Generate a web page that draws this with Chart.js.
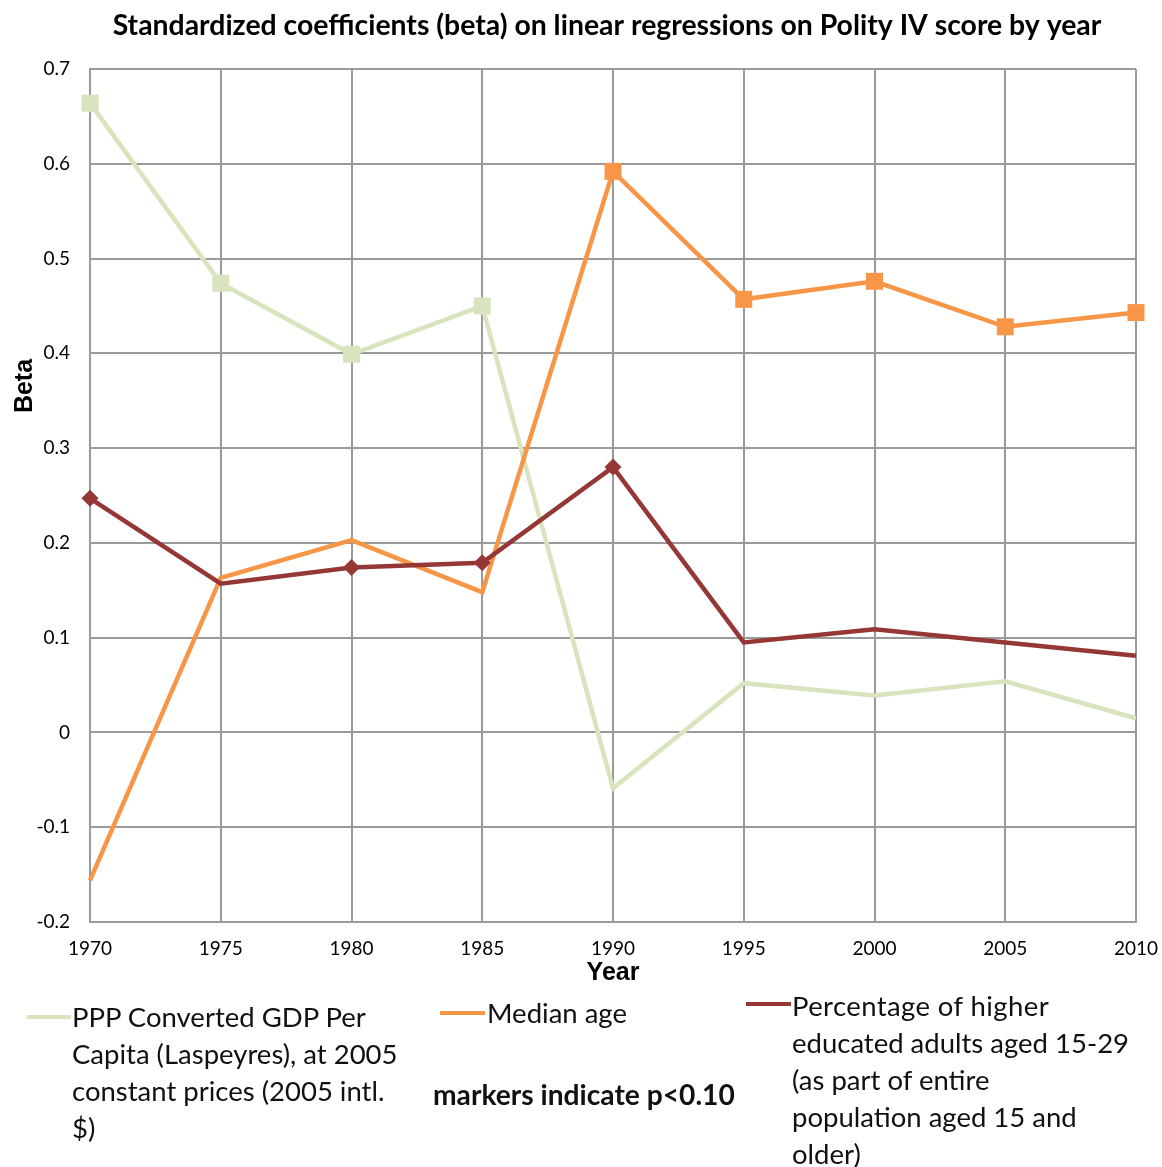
<!DOCTYPE html>
<html>
<head>
<meta charset="utf-8">
<script src="https://cdn.jsdelivr.net/npm/chart.js@4.4.1/dist/chart.umd.min.js"></script>
<style>
  html, body { margin: 0; padding: 0; background: #fff; }
  #wrap { position: relative; width: 1162px; height: 1167px; }
  canvas { position: absolute; left: 0; top: 0; }
  .leg { position: absolute; font-family: Lato, "Open Sans", sans-serif; font-size: 27.5px; color: #111; line-height: 37px; white-space: nowrap; }
  .sw { position: absolute; height: 4px; }
</style>
</head>
<body>
<div id="wrap">
  <canvas id="c" width="1162" height="1167"></canvas>
  <div class="sw" style="left:27px; top:1015px; width:44px; background:#d7e4bd"></div>
  <div class="leg" style="left:72px; top:998px">PPP Converted GDP Per<br>Capita (Laspeyres), at 2005<br>constant prices (2005 intl.<br>$)</div>
  <div class="sw" style="left:440px; top:1011px; width:45px; background:#f79646"></div>
  <div class="leg" style="left:487px; top:994px">Median age</div>
  <div class="leg" style="left:433px; top:1076px; font-weight:bold; font-size:28.2px">markers indicate p&lt;0.10</div>
  <div class="sw" style="left:746px; top:1002px; width:45px; background:#953735"></div>
  <div class="leg" style="left:792px; top:987px"><span style="letter-spacing:0.4px">Percentage of higher</span><br>educated adults aged 15-29<br>(as part of entire<br>population aged 15 and<br>older)</div>
</div>
<script>
// Survey years
const years = ['1970', '1975', '1980', '1985', '1990', '1995', '2000', '2005', '2010'];

// Standardized coefficients (beta) per predictor
const gdpBeta    = [0.664, 0.474, 0.399, 0.450, -0.059, 0.052, 0.039, 0.054, 0.015];
const medianAge  = [-0.156, 0.163, 0.203, 0.148, 0.592, 0.457, 0.476, 0.428, 0.443];
const higherEdu  = [0.247, 0.157, 0.174, 0.179, 0.280, 0.095, 0.109, 0.095, 0.081];

// Significant at p<0.10 (marker shown)
const gdpSig = [true, true, true, true, false, false, false, false, false];
const ageSig = [false, false, false, false, true, true, true, true, true];
const eduSig = [true, false, true, true, true, false, false, false, false];

// Value axis ticks
const yTicks = [-0.2, -0.1, 0, 0.1, 0.2, 0.3, 0.4, 0.5, 0.6, 0.7];

const TITLE = 'Standardized coefficients (beta) on linear regressions on Polity IV score by year';
const FONT = 'Lato, "Open Sans", sans-serif';
const AXFONT = '"Liberation Sans", Arial, sans-serif';
const GRID = '#9a9a9a';

// Chart title and axis titles, placed as in the original layout
const titles = {
  id: 'titles',
  afterDraw(chart) {
    const ctx = chart.ctx;
    const area = chart.chartArea;
    ctx.save();
    ctx.fillStyle = '#000';
    ctx.textAlign = 'center';
    ctx.textBaseline = 'middle';

    ctx.font = 'bold 28.4px ' + FONT;
    ctx.fillText(TITLE, 607, 26);

    ctx.font = 'bold 25px ' + AXFONT;
    ctx.fillText('Year', (area.left + area.right) / 2, area.bottom + 51);

    ctx.translate(25, 386);
    ctx.rotate(-Math.PI / 2);
    ctx.fillText('Beta', 0, 0);
    ctx.restore();
  }
};

new Chart(document.getElementById('c'), {
  type: 'line',
  data: {
    labels: years,
    datasets: [
      {
        label: 'PPP Converted GDP Per Capita (Laspeyres), at 2005 constant prices (2005 intl. $)',
        data: gdpBeta,
        borderColor: '#d7e4bd',
        backgroundColor: '#d7e4bd',
        borderWidth: 4.5,
        pointStyle: 'rect',
        pointRadius: gdpSig.map(s => s ? 12 : 0),
        pointBorderWidth: 0,
        order: 3
      },
      {
        label: 'Median age',
        data: medianAge,
        borderColor: '#f79646',
        backgroundColor: '#f79646',
        borderWidth: 4.5,
        pointStyle: 'rect',
        pointRadius: ageSig.map(s => s ? 12 : 0),
        pointBorderWidth: 0,
        order: 2
      },
      {
        label: 'Percentage of higher educated adults aged 15-29 (as part of entire population aged 15 and older)',
        data: higherEdu,
        borderColor: '#953735',
        backgroundColor: '#953735',
        borderWidth: 4.5,
        pointStyle: 'rectRot',
        pointRadius: eduSig.map(s => s ? 8.5 : 0),
        pointBorderWidth: 0,
        order: 1
      }
    ]
  },
  options: {
    responsive: false,
    animation: false,
    events: [],
    layout: { padding: { left: 0, right: 0, top: 69, bottom: 191 } },
    plugins: {
      legend: { display: false },
      tooltip: { enabled: false },
      title: { display: false }
    },
    scales: {
      x: {
        type: 'category',
        offset: false,
        afterFit(scale) { scale.paddingRight = 26; },
        grid: { color: GRID, lineWidth: 2, drawTicks: false },
        border: { color: GRID, width: 2 },
        ticks: { color: '#000', font: { family: FONT, size: 19, lineHeight: 1 }, padding: 17.5, maxRotation: 0, autoSkip: false },
        title: { display: false }
      },
      y: {
        min: -0.2,
        max: 0.7,
        afterBuildTicks(scale) { scale.ticks = yTicks.map(v => ({ value: v })); },
        afterFit(scale) { scale.width = 90; },
        grid: { color: GRID, lineWidth: 2, drawTicks: false },
        border: { color: GRID, width: 2 },
        ticks: {
          color: '#000',
          font: { family: FONT, size: 19, lineHeight: 1 },
          padding: 20,
          callback: v => (Math.abs(v) < 1e-9 ? '0' : (+v).toFixed(1))
        }
      }
    }
  },
  plugins: [titles]
});
</script>
</body>
</html>
